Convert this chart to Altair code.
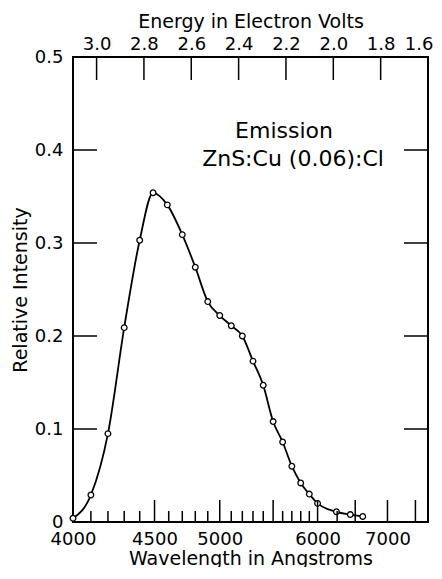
import altair as alt
import pandas as pd

HC = 12398.4  # eV * Angstrom

# --- data ---
wavelength = [4000, 4100, 4200, 4300, 4400, 4490, 4590, 4700, 4800, 4900, 5000, 5100,
              5200, 5300, 5400, 5500, 5600, 5700, 5800, 5900, 6000, 6240, 6430, 6610]
intensity = [0.004, 0.029, 0.095, 0.209, 0.303, 0.354, 0.341, 0.309, 0.274, 0.237, 0.222, 0.211,
             0.200, 0.173, 0.147, 0.108, 0.086, 0.060, 0.042, 0.030, 0.020, 0.011, 0.008, 0.006]

energy_tick_values = [3.0, 2.8, 2.6, 2.4, 2.2, 2.0, 1.8]
energy_label_values = [3.0, 2.8, 2.6, 2.4, 2.2, 2.0, 1.8, 1.6]
wl_label_values = [4000, 4500, 5000, 6000, 7000]
wl_major_ticks = [4500, 5000, 5500, 6000, 6500, 7000, 7500]
wl_minor_ticks = [4100, 4200, 4300, 4400, 4600, 4700, 4800, 4900, 5100, 5200, 5300, 5400,
                  5600, 5700, 5800, 5900, 6250]
int_tick_values = [0.1, 0.2, 0.3, 0.4]
int_label_values = [0, 0.1, 0.2, 0.3, 0.4, 0.5]
annotation_lines = ["Emission", "ZnS:Cu (0.06):Cl"]

W, H = 355, 465
FONT = "DejaVu Sans"

df = pd.DataFrame({"wavelength": wavelength, "intensity": intensity})
df_major = pd.DataFrame({"wavelength": wl_major_ticks})
df_minor = pd.DataFrame({"wavelength": wl_minor_ticks})
df_etick = pd.DataFrame({"E": energy_tick_values})
df_itick = pd.DataFrame({"intensity": int_tick_values})
df_one = pd.DataFrame({"k": [0]})

xscale = alt.Scale(domain=[1.6, HC / 4000], reverse=True, nice=False, zero=False)
yscale = alt.Scale(domain=[0, 0.5], nice=False, zero=False)

bottom_axis = alt.Axis(
    orient="bottom", values=[HC / w for w in wl_label_values],
    labelExpr="round(12398.4/datum.value)", ticks=False, domain=False, grid=False,
    title="Wavelength in Angstroms", labelPadding=8, titlePadding=1,
    labelFontSize=18, titleFontSize=19, labelFlush=False, labelOverlap=False,
)
top_axis = alt.Axis(
    orient="top", values=energy_label_values, format=".1f", ticks=False, domain=False,
    grid=False, title="Energy in Electron Volts", labelPadding=4, titlePadding=4,
    labelFontSize=18, titleFontSize=19, labelFlush=False, labelOverlap=False,
    labelAlign={"condition": {"test": "datum.value < 1.65", "value": "right"}, "value": "center"},
    labelOffset={"condition": {"test": "datum.value < 1.65", "value": 5}, "value": 0},
)
left_axis = alt.Axis(
    orient="left", values=int_label_values,
    labelExpr="datum.value == 0 ? '0' : format(datum.value, '.1f')",
    ticks=False, domain=False, grid=False, title="Relative Intensity",
    labelPadding=10, titlePadding=4, labelFontSize=18, titleFontSize=19,
    labelFlush=False, labelOverlap=False,
)

energy_calc = {"E": f"{HC}/datum.wavelength"}

line = alt.Chart(df).transform_calculate(**energy_calc).mark_line(
    color="black", strokeWidth=1.8, interpolate="monotone"
).encode(
    x=alt.X("E:Q", scale=xscale, axis=bottom_axis),
    y=alt.Y("intensity:Q", scale=yscale, axis=left_axis),
)

points = alt.Chart(df).transform_calculate(**energy_calc).mark_point(
    shape="circle", filled=True, fill="white", stroke="black", strokeWidth=1.3,
    size=32, opacity=1
).encode(
    x=alt.X("E:Q", scale=xscale, axis=None),
    y=alt.Y("intensity:Q", scale=yscale, axis=None),
)

major = alt.Chart(df_major).transform_calculate(**energy_calc).mark_rule(
    color="black", strokeWidth=1.5
).encode(
    x=alt.X("E:Q", scale=xscale, axis=None),
    y=alt.value(H), y2=alt.value(H - 22),
)

minor = alt.Chart(df_minor).transform_calculate(**energy_calc).mark_rule(
    color="black", strokeWidth=1.5
).encode(
    x=alt.X("E:Q", scale=xscale, axis=None),
    y=alt.value(H), y2=alt.value(H - 11),
)

top_ticks = alt.Chart(df_etick).mark_rule(color="black", strokeWidth=1.5).encode(
    x=alt.X("E:Q", scale=xscale, axis=top_axis),
    y=alt.value(0), y2=alt.value(23),
)

left_ticks = alt.Chart(df_itick).mark_rule(color="black", strokeWidth=1.5).encode(
    y=alt.Y("intensity:Q", scale=yscale, axis=None),
    x=alt.value(0), x2=alt.value(24),
)

right_ticks = alt.Chart(df_itick).mark_rule(color="black", strokeWidth=1.5).encode(
    y=alt.Y("intensity:Q", scale=yscale, axis=None),
    x=alt.value(W - 24), x2=alt.value(W),
)

text1 = alt.Chart(df_one).mark_text(
    text=annotation_lines[0], font=FONT, fontSize=22, color="black",
    align="center", baseline="alphabetic"
).encode(x=alt.value(211), y=alt.value(81))

text2 = alt.Chart(df_one).mark_text(
    text=annotation_lines[1], font=FONT, fontSize=22, color="black",
    align="center", baseline="alphabetic"
).encode(x=alt.value(220), y=alt.value(109))

chart = alt.layer(
    line, points, major, minor, top_ticks, left_ticks, right_ticks, text1, text2
).resolve_axis(x="independent", y="independent").properties(
    width=W, height=H,
    autosize=alt.AutoSizeParams(type="none"),
    padding={"left": 65, "top": 49, "right": 5, "bottom": 45},
).configure_axis(
    labelFont=FONT, titleFont=FONT, labelColor="black", titleColor="black",
    titleFontWeight="normal",
).configure_view(stroke="black", strokeWidth=2)

chart.save("out.html", embed_options={"renderer": "svg", "actions": False})
